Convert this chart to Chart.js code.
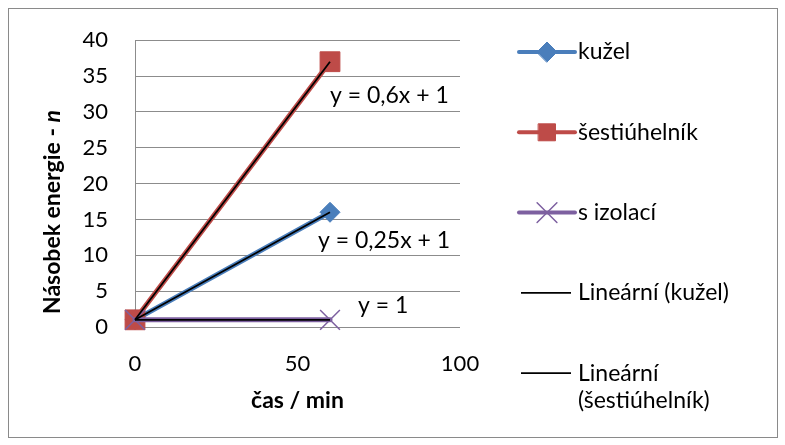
<!DOCTYPE html>
<html lang="cs">
<head>
<meta charset="utf-8">
<title>Násobek energie</title>
<script src="https://cdn.jsdelivr.net/npm/chart.js"></script>
<style>
  html, body { margin: 0; padding: 0; background: #fff; }
  #wrap { position: relative; width: 785px; height: 445px; }
  #frame { position: absolute; left: 8px; top: 8px; width: 768px; height: 428px; border: 1px solid #8a8a8a; }
  canvas { position: absolute; left: 0; top: 0; }
</style>
</head>
<body>
<div id="wrap">
  <div id="frame"></div>
  <canvas id="chart" width="785" height="445"></canvas>
</div>
<script>
// ---- data ----
const TIMES = [0, 60];
const KUZEL = [1, 16];
const SESTIUHELNIK = [1, 37];
const S_IZOLACI = [1, 1];
const TREND_KUZEL = [1, 16];
const TREND_SESTIUHELNIK = [1, 37];
const TREND_IZOLACE = [1, 1];
const SERIES_NAMES = ['kužel', 'šestiúhelník', 's izolací'];
const TREND_NAMES = ['Lineární (kužel)', 'Lineární (šestiúhelník)', 'Lineární (s izolací)'];
const EQUATIONS = ['y = 0,25x + 1', 'y = 0,6x + 1', 'y = 1'];
const X_TICKS = [0, 50, 100];
const Y_TICKS = [0, 5, 10, 15, 20, 25, 30, 35, 40];
const X_TITLE = 'čas / min';
const Y_TITLE = 'Násobek energie - ';
const Y_TITLE_VAR = 'n';

// ---- look ----
const FONT = 'Lato, "Open Sans", sans-serif';
const FS = 23;      // legend, labels, titles
const FS_TICK = 22;
const GRID = '#8c8c8c';
const BLUE = '#4a7ebb', RED = '#be4b48', PURPLE = '#7d60a0';
// where the equation labels sit (data units: left edge, vertical middle)
const EQ_AT = [[56.3, 12], [60, 32.3], [68.6, 3]];

const toPts = (ys) => ys.map((v, i) => ({ x: TIMES[i], y: v }));

const series = (label, ys, color, style, r, bw, order) => ({
  label, data: toPts(ys), borderColor: color, backgroundColor: color,
  borderWidth: 5, borderCapStyle: 'round', pointStyle: style, pointRadius: r,
  pointBorderWidth: bw, pointBorderColor: color, pointBackgroundColor: color,
  order, clip: false,
});
const trend = (label, ys, order) => ({
  label, data: toPts(ys), borderColor: '#000', backgroundColor: '#000',
  borderWidth: 1.8, pointRadius: 0, order, clip: false,
});

const datasets = [
  series(SERIES_NAMES[0], KUZEL, BLUE, 'rectRot', 10, 1, 6),
  series(SERIES_NAMES[1], SESTIUHELNIK, RED, 'rect', 14, 1, 5),
  series(SERIES_NAMES[2], S_IZOLACI, PURPLE, 'crossRot', 14, 1.5, 4),
  trend(TREND_NAMES[0], TREND_KUZEL, 2),
  trend(TREND_NAMES[1], TREND_SESTIUHELNIK, 1),
  trend(TREND_NAMES[2], TREND_IZOLACE, 0),
];
const LEGEND_COUNT = 5;

function wrap(ctx, text, maxW) {
  const words = text.split(' ');
  const lines = [];
  let cur = '';
  for (const w of words) {
    const t = cur ? cur + ' ' + w : w;
    if (cur && ctx.measureText(t).width > maxW) { lines.push(cur); cur = w; } else cur = t;
  }
  lines.push(cur);
  return lines;
}

const overlay = {
  id: 'overlay',
  afterDraw(chart) {
    const { ctx, scales: { x, y } } = chart;
    ctx.save();
    ctx.fillStyle = '#000';
    ctx.textBaseline = 'middle';

    // trendline equations
    ctx.font = `${FS}px ${FONT}`;
    ctx.textAlign = 'left';
    EQUATIONS.forEach((t, i) => {
      ctx.fillText(t, x.getPixelForValue(EQ_AT[i][0]), y.getPixelForValue(EQ_AT[i][1]));
    });

    // x title
    ctx.font = `bold ${FS}px ${FONT}`;
    ctx.textAlign = 'center';
    ctx.fillText(X_TITLE, (x.left + x.getPixelForValue(100)) / 2, 401);

    // y title with italic n
    ctx.save();
    ctx.translate(53, 212);
    ctx.rotate(-Math.PI / 2);
    ctx.textAlign = 'left';
    ctx.font = `bold ${FS}px ${FONT}`;
    const w1 = ctx.measureText(Y_TITLE).width;
    ctx.font = `italic bold ${FS}px ${FONT}`;
    const w2 = ctx.measureText(Y_TITLE_VAR).width;
    const sx = -(w1 + w2) / 2;
    ctx.font = `bold ${FS}px ${FONT}`;
    ctx.fillText(Y_TITLE, sx, 0);
    ctx.font = `italic bold ${FS}px ${FONT}`;
    ctx.fillText(Y_TITLE_VAR, sx + w1, 0);
    ctx.restore();

    // legend
    ctx.font = `${FS}px ${FONT}`;
    ctx.textAlign = 'left';
    const lx0 = 519, lx1 = 575, tx = 578, top = 52, step = 80.3, lh = 27;
    chart.data.datasets.slice(0, LEGEND_COUNT).forEach((ds, i) => {
      const cy = top + i * step;
      ctx.save();
      ctx.strokeStyle = ds.borderColor;
      ctx.lineWidth = ds.pointRadius ? 4 : ds.borderWidth;
      ctx.lineCap = ds.pointRadius ? 'round' : 'butt';
      ctx.beginPath();
      ctx.moveTo(ds.pointRadius ? lx0 : lx0 + 2, cy);
      ctx.lineTo(ds.pointRadius ? lx1 : lx1 - 4, cy);
      ctx.stroke();
      if (ds.pointRadius) {
        ctx.fillStyle = ds.pointBackgroundColor;
        ctx.strokeStyle = ds.pointBorderColor;
        ctx.lineWidth = ds.pointBorderWidth;
        Chart.helpers.drawPoint(ctx, {
          pointStyle: ds.pointStyle, radius: ds.pointStyle === 'rect' ? 12 : ds.pointRadius,
          rotation: 0, borderWidth: ds.pointBorderWidth,
        }, (lx0 + lx1) / 2, cy);
      }
      ctx.restore();
      wrap(ctx, ds.label, 190).forEach((ln, k) => ctx.fillText(ln, tx, cy + k * lh));
    });
    ctx.restore();
  },
};

new Chart(document.getElementById('chart'), {
  type: 'line',
  data: { datasets },
  options: {
    responsive: false,
    animation: false,
    devicePixelRatio: 1,
    layout: { padding: { top: 37, right: 325, left: 0, bottom: 0 } },
    plugins: { legend: { display: false }, tooltip: { enabled: false } },
    scales: {
      x: {
        type: 'linear', min: 0, max: 100,
        afterBuildTicks: (s) => { s.ticks = X_TICKS.map((v) => ({ value: v })); },
        afterFit: (s) => { s.height = 118; },
        grid: { display: false, drawTicks: false },
        border: { display: false },
        ticks: { padding: 24, color: '#000', font: { family: FONT, size: FS_TICK }, maxRotation: 0 },
      },
      y: {
        min: 0, max: 40,
        afterBuildTicks: (s) => { s.ticks = Y_TICKS.map((v) => ({ value: v })); },
        afterFit: (s) => { s.width = 135; },
        grid: { color: GRID, lineWidth: 1, drawTicks: false },
        border: { display: true, color: GRID, width: 1 },
        ticks: { padding: 27, color: '#000', font: { family: FONT, size: FS_TICK } },
      },
    },
  },
  plugins: [overlay],
});
</script>
</body>
</html>
